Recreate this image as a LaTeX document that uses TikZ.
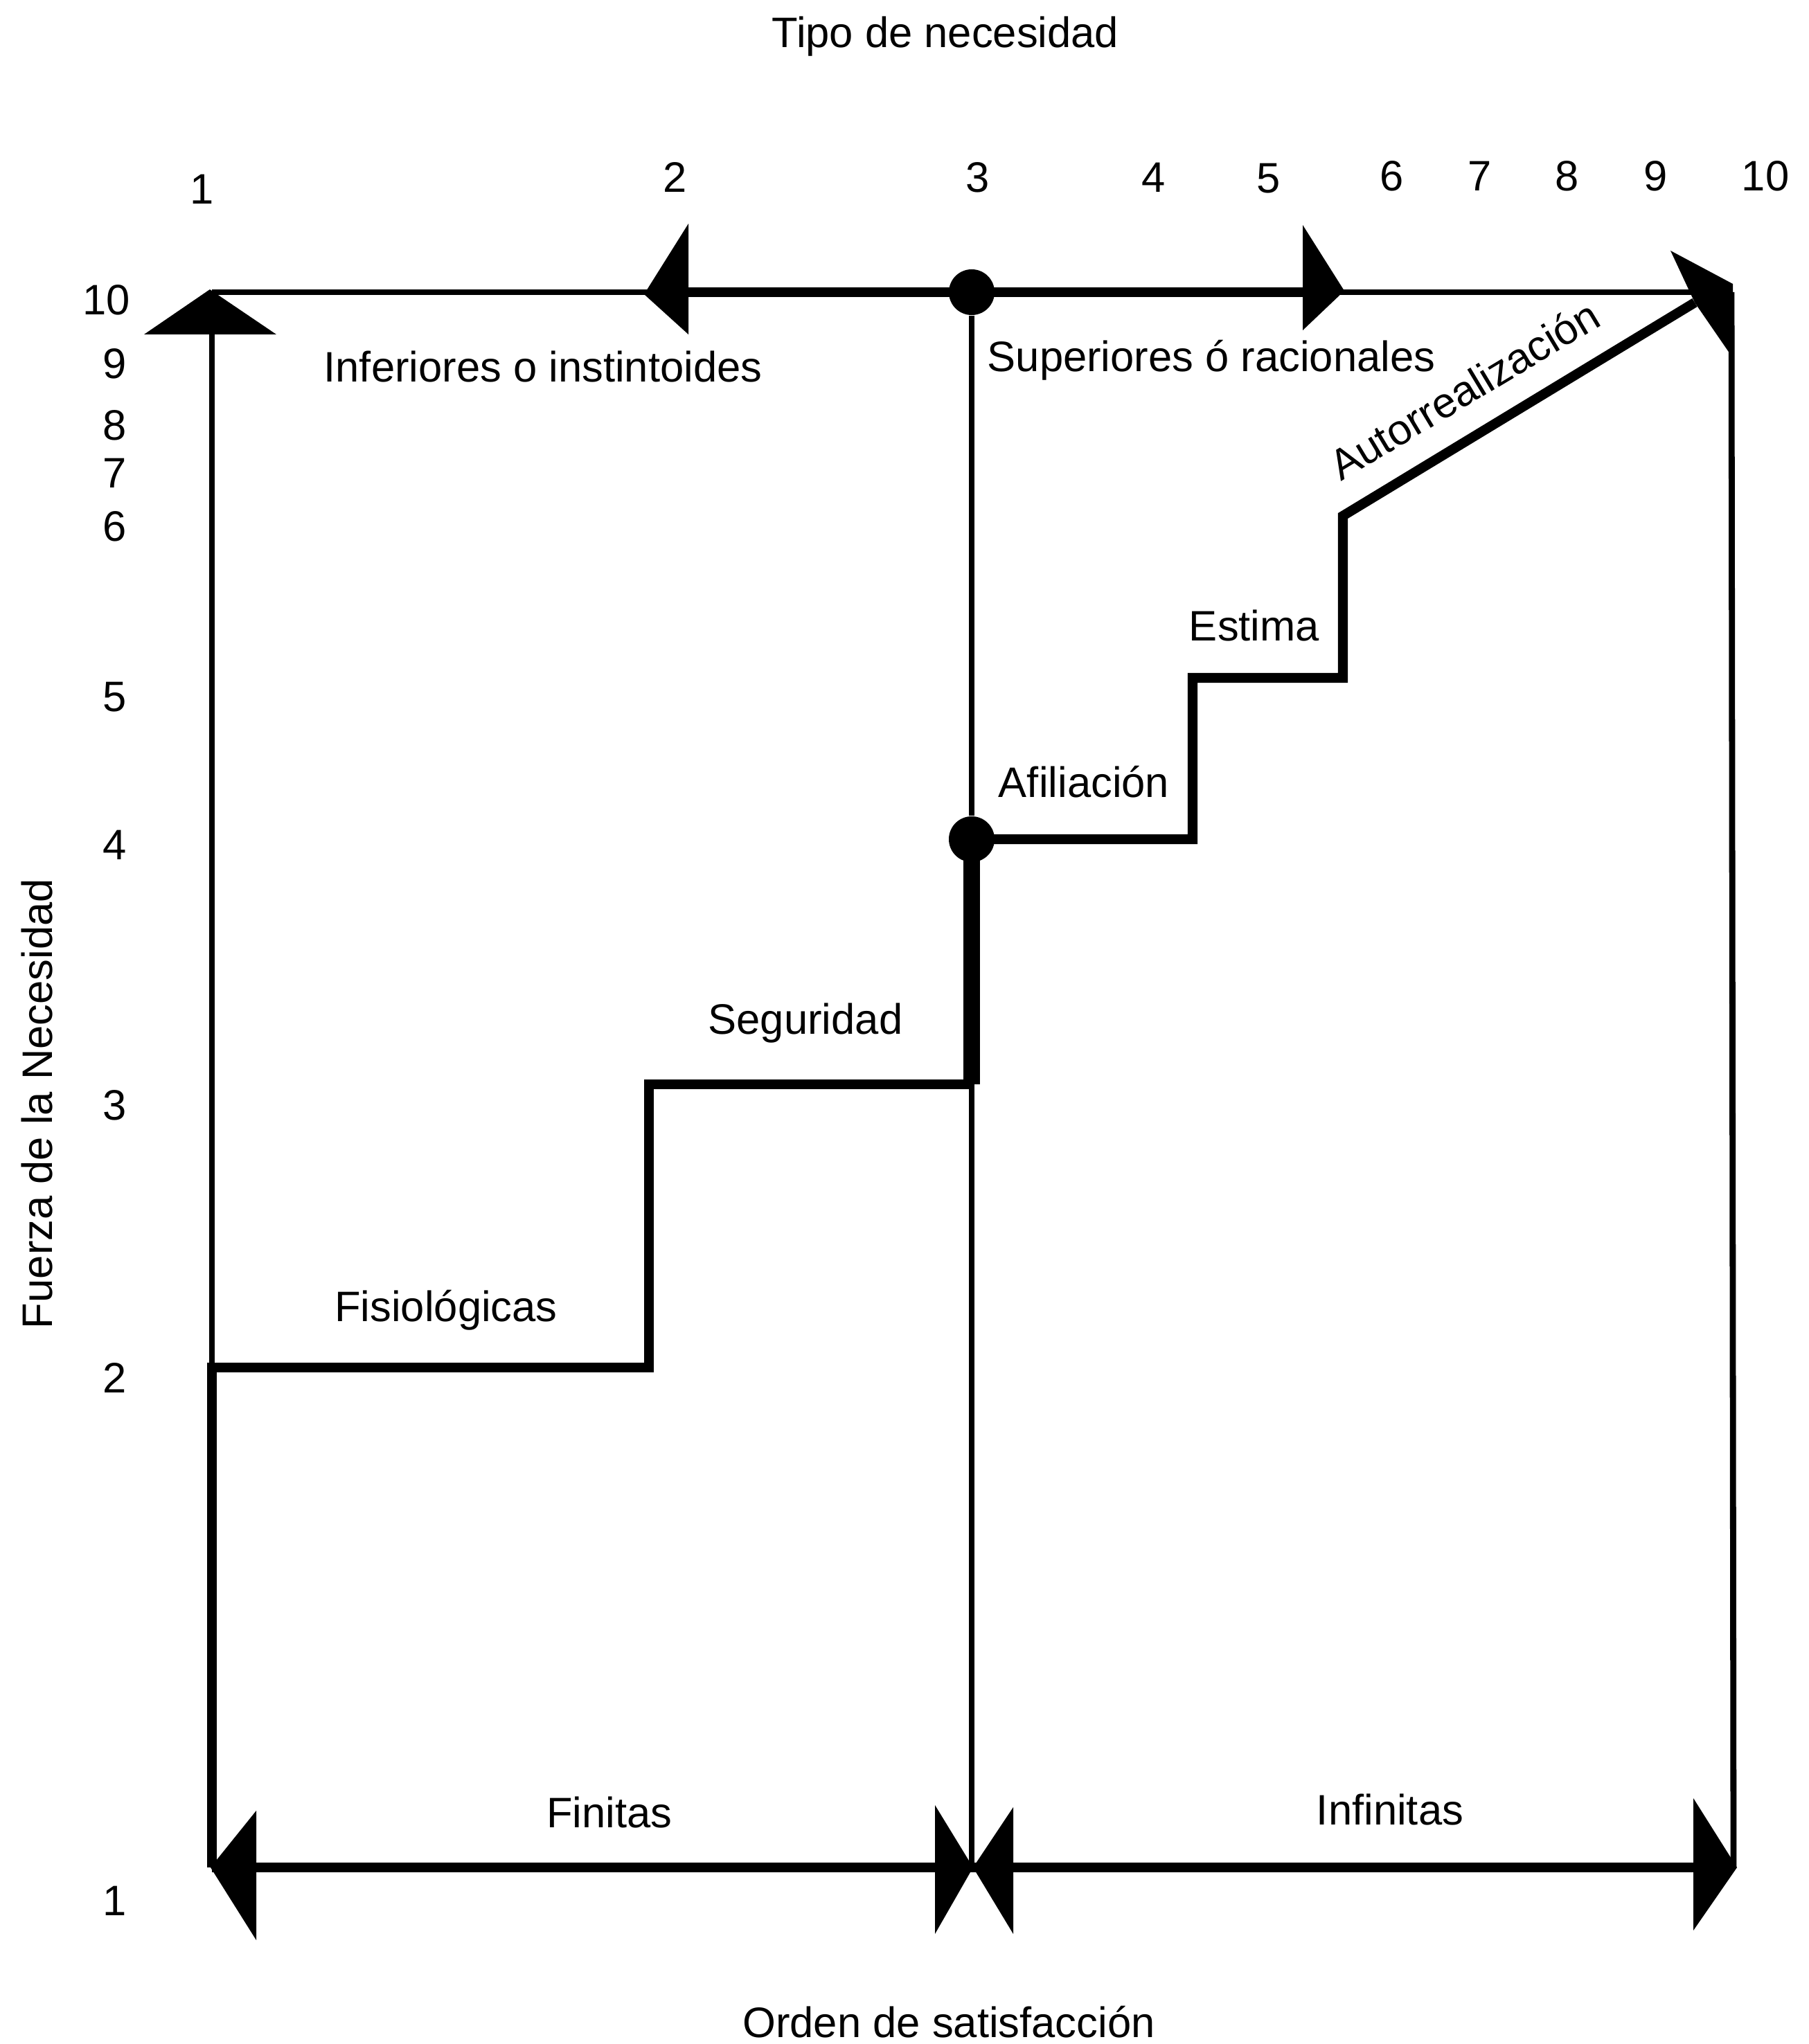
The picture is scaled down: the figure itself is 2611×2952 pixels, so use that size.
\documentclass[tikz,border=0pt]{standalone}
\usepackage{fontspec}
\setmainfont{Liberation Sans}
\usetikzlibrary{calc}
\usetikzlibrary{arrows.meta}
\tikzset{>=latex}
\tikzstyle{lbl} = [draw = none, inner sep = 1, font = \fontsize{17.5}{20}\selectfont]
\tikzstyle{eje} = [-, line width = 2.5pt]
\tikzstyle{escalon} = [-, line width = 4pt]
\tikzstyle{grueso} = [-, line width = 7pt]
\tikzstyle{punto} = [circle, fill = black, inner sep = 0, minimum size = 0.66cm]

\begin{document}
\begin{tikzpicture}[x = 0.01cm, y = -0.01cm]
\useasboundingbox (0, 0) rectangle (2611, 2952);
% titulos de los ejes
\node [lbl] (tipo) at (1365, 53) {Tipo de necesidad};
\node [lbl] (orden) at (1370, 2920) {Orden de satisfacción};
\node [lbl, rotate = 90] (fuerza) at (54, 1594) {Fuerza de la Necesidad};
% escala superior
\node [lbl] (t1) at (292, 273) {1};
\node [lbl] (t2) at (975, 256) {2};
\node [lbl] (t3) at (1412, 256) {3};
\node [lbl] (t4) at (1666, 256) {4};
\node [lbl] (t5) at (1832, 258) {5};
\node [lbl] (t6) at (2010, 254) {6};
\node [lbl] (t7) at (2137, 254) {7};
\node [lbl] (t8) at (2263, 254) {8};
\node [lbl] (t9) at (2391, 254) {9};
\node [lbl] (t10) at (2549, 254) {10};
% escala lateral
\node [lbl] (f10) at (154, 433) {10};
\node [lbl] (f9) at (166, 525) {9};
\node [lbl] (f8) at (166, 614) {8};
\node [lbl] (f7) at (166, 683) {7};
\node [lbl] (f6) at (166, 760) {6};
\node [lbl] (f5) at (166, 1007) {5};
\node [lbl] (f4) at (166, 1220) {4};
\node [lbl] (f3) at (166, 1596) {3};
\node [lbl] (f2) at (166, 1990) {2};
\node [lbl] (f1) at (166, 2745) {1};
% rotulos
\node [lbl] (inf) at (784, 530) {Inferiores o instintoides};
\node [lbl] (sup) at (1749, 520) {Superiores ó racionales};
\node [lbl, rotate = 31] (auto) at (2114, 563) {Autorrealización};
\node [lbl] (est) at (1811, 904) {Estima};
\node [lbl] (afi) at (1565, 1129) {Afiliación};
\node [lbl] (seg) at (1163, 1478) {Seguridad};
\node [lbl] (fis) at (644, 1892) {Fisiológicas};
\node [lbl] (fin) at (880, 2617) {Finitas};
\node [lbl] (infin) at (2007, 2613) {Infinitas};
% esquinas y escalones
\coordinate (TL) at (306, 422);
\coordinate (A2) at (994, 422);
\coordinate (A5) at (1881, 422);
\coordinate (TR) at (2500, 422);
\coordinate (BL) at (306, 2697);
\coordinate (BM) at (1403, 2697);
\coordinate (BR) at (2503, 2697);
\coordinate (S1) at (306, 1975);
\coordinate (S2) at (937, 1975);
\coordinate (S3) at (937, 1566);
\coordinate (S4) at (1403, 1566);
\coordinate (S6) at (1722, 1212);
\coordinate (S7) at (1722, 979);
\coordinate (S8) at (1939, 979);
\coordinate (S9) at (1939, 745);
\coordinate (S10) at (2447, 437);
\node [punto] (d10) at (1403, 422) {};
\node [punto] (d4) at (1403, 1212) {};
% lineas
\draw [eje] (TL) -- (A2);
\draw [escalon] (A2) -- (A5);
\draw [eje] (A5) -- (TR);
\draw [eje] (TL) -- (S1);
\draw [eje] (d10) -- (d4);
\draw [eje] (S4) -- (BM);
\draw [eje] (TR) -- (BR);
\draw [escalon] (BL) -- (S1) -- (S2) -- (S3) -- (S4);
\draw [grueso] (S4) -- (d4.center);
\draw [escalon] (d4.center) -- (S6) -- (S7) -- (S8) -- (S9) -- (S10);
\draw [escalon] (BL) -- (BR);
% puntas
\fill (303, 418) -- (399, 483) -- (208, 483) -- cycle;
\fill (930, 425) -- (994, 323) -- (994, 483) -- cycle;
\fill (1881, 325) -- (1941, 420) -- (1881, 477) -- cycle;
\fill (2412, 362) -- (2502, 410) -- (2502, 517) -- (2447, 437) -- cycle;
\fill (304, 2697) -- (370, 2615) -- (370, 2802) -- cycle;
\fill (1350, 2607) -- (1405, 2697) -- (1350, 2793) -- cycle;
\fill (1463, 2610) -- (1405, 2697) -- (1463, 2793) -- cycle;
\fill (2445, 2597) -- (2508, 2697) -- (2445, 2788) -- cycle;
\end{tikzpicture}
\end{document}
